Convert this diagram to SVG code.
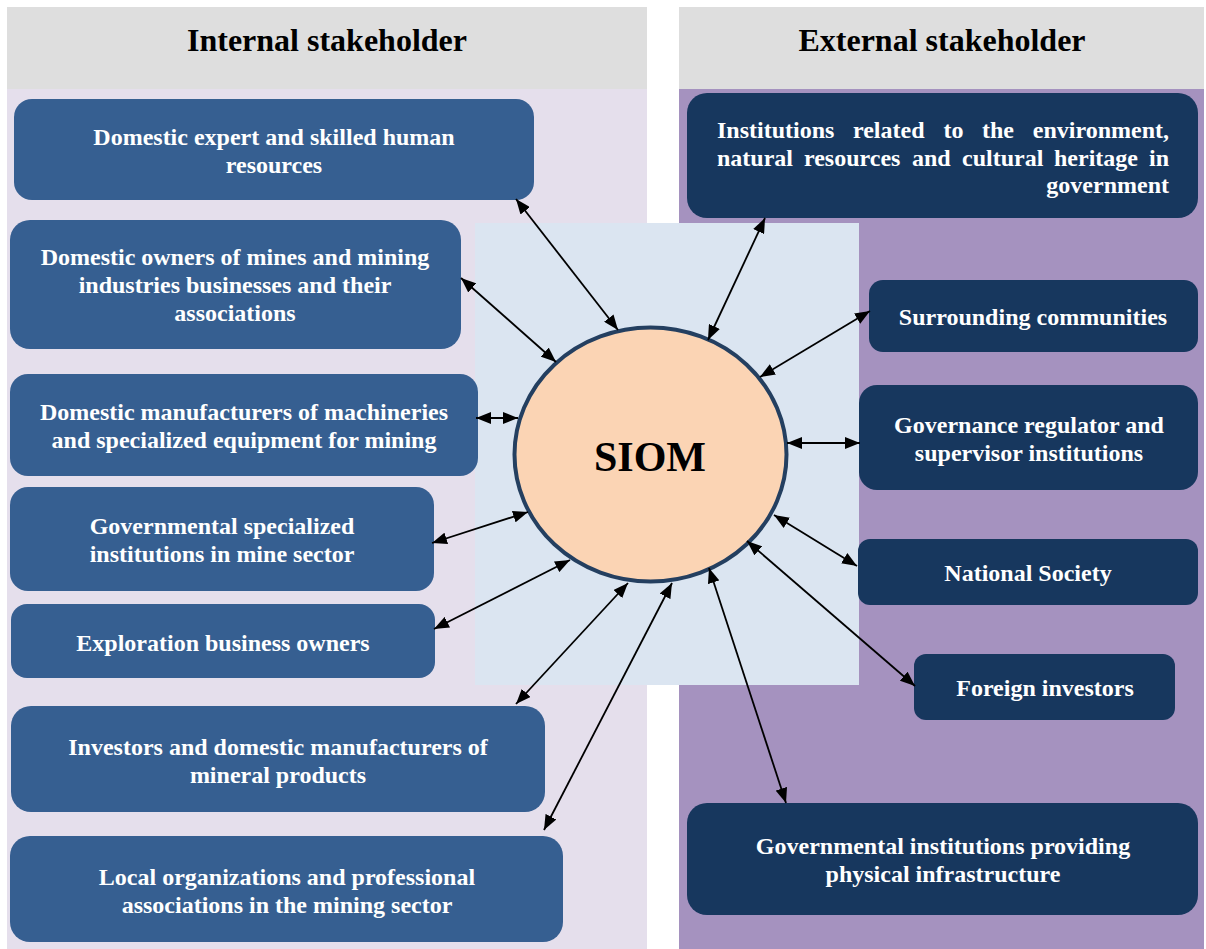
<svg xmlns="http://www.w3.org/2000/svg" width="1206" height="949" viewBox="0 0 1206 949">
<style>
.hdr{fill:#dedede}
.t{font-family:"Liberation Serif","Times New Roman",serif;font-weight:bold}
.h{font-size:32px;fill:#000;text-anchor:middle}
.b{font-size:24px;fill:#fff;text-anchor:middle}
.j{font-size:24px;fill:#fff}
.li{fill:#365f91}
.ex{fill:#17375e}
.c{stroke:#000;stroke-width:1.8;fill:none;marker-start:url(#ah);marker-end:url(#ah)}
</style>
<defs>
<marker id="ah" viewBox="0 0 15 12" markerUnits="userSpaceOnUse" markerWidth="15" markerHeight="12" refX="15" refY="6" orient="auto-start-reverse">
<path d="M0,0 L15,6 L0,12 z" fill="#000"/>
</marker>
</defs>
<rect width="1206" height="949" fill="#fff"/>
<g id="panels">
<rect x="7" y="7" width="640" height="82" class="hdr"/>
<rect x="7" y="89" width="640" height="860" fill="#e5dfec"/>
<rect x="679" y="7" width="525" height="82" class="hdr"/>
<rect x="679" y="89" width="525" height="860" fill="#a592bf"/>
<text class="t h" x="327" y="51">Internal stakeholder</text>
<text class="t h" x="942" y="51">External stakeholder</text>
<rect x="475" y="223" width="384" height="462" fill="#dbe5f1"/>
</g>
<g id="internal1"><rect class="li" x="14" y="99" width="520" height="101" rx="18"/>
<text class="t b" x="274" y="145">Domestic expert and skilled human</text>
<text class="t b" x="274" y="173">resources</text></g>
<g id="internal2"><rect class="li" x="10" y="220" width="451" height="129" rx="20"/>
<text class="t b" x="235" y="265">Domestic owners of mines and mining</text>
<text class="t b" x="235" y="293">industries businesses and their</text>
<text class="t b" x="235" y="321">associations</text></g>
<g id="internal3"><rect class="li" x="10" y="374" width="468" height="102" rx="18"/>
<text class="t b" x="244" y="420">Domestic manufacturers of machineries</text>
<text class="t b" x="244" y="448">and specialized equipment for mining</text></g>
<g id="internal4"><rect class="li" x="10" y="487" width="424" height="104" rx="18"/>
<text class="t b" x="222" y="534">Governmental specialized</text>
<text class="t b" x="222" y="562">institutions in mine sector</text></g>
<g id="internal5"><rect class="li" x="11" y="604" width="424" height="74" rx="16"/>
<text class="t b" x="223" y="651">Exploration business owners</text></g>
<g id="internal6"><rect class="li" x="11" y="706" width="534" height="106" rx="20"/>
<text class="t b" x="278" y="755">Investors and domestic manufacturers of</text>
<text class="t b" x="278" y="783">mineral products</text></g>
<g id="internal7"><rect class="li" x="10" y="836" width="553" height="106" rx="20"/>
<text class="t b" x="287" y="885">Local organizations and professional</text>
<text class="t b" x="287" y="913">associations in the mining sector</text></g>
<g id="external1"><rect class="ex" x="687" y="93" width="511" height="125" rx="20"/>
<text class="t j" y="138"><tspan x="717">Institutions</tspan><tspan x="853">related</tspan><tspan x="943.5">to</tspan><tspan x="982">the</tspan><tspan x="1169" text-anchor="end">environment,</tspan></text>
<text class="t j" y="166"><tspan x="717">natural</tspan><tspan x="804">resources</tspan><tspan x="912">and</tspan><tspan x="962">cultural</tspan><tspan x="1054">heritage</tspan><tspan x="1169" text-anchor="end">in</tspan></text>
<text class="t j" x="1169" y="193" text-anchor="end">government</text></g>
<g id="external2"><rect class="ex" x="869" y="280" width="329" height="72" rx="14"/>
<text class="t b" x="1033" y="325">Surrounding communities</text></g>
<g id="external3"><rect class="ex" x="859" y="385" width="339" height="105" rx="18"/>
<text class="t b" x="1029" y="433">Governance regulator and</text>
<text class="t b" x="1029" y="461">supervisor institutions</text></g>
<g id="external4"><rect class="ex" x="858" y="539" width="340" height="66" rx="12"/>
<text class="t b" x="1028" y="581">National Society</text></g>
<g id="external5"><rect class="ex" x="914" y="654" width="261" height="66" rx="12"/>
<text class="t b" x="1045" y="696">Foreign investors</text></g>
<g id="external6"><rect class="ex" x="687" y="803" width="511" height="112" rx="20"/>
<text class="t b" x="943" y="854">Governmental institutions providing</text>
<text class="t b" x="943" y="882">physical infrastructure</text></g>
<g id="siom">
<ellipse cx="650.5" cy="454.5" rx="136" ry="127" fill="#fbd4b4" stroke="#243f60" stroke-width="4"/>
<text class="t" x="650" y="471" font-size="42" text-anchor="middle" fill="#000">SIOM</text>
</g>
<g id="connectors">
<line class="c" x1="516" y1="199" x2="618" y2="330"/>
<line class="c" x1="461" y1="278" x2="556" y2="362"/>
<line class="c" x1="476" y1="418" x2="518" y2="418"/>
<line class="c" x1="432" y1="543" x2="528" y2="512"/>
<line class="c" x1="434" y1="629" x2="570" y2="560"/>
<line class="c" x1="516" y1="704" x2="628" y2="583"/>
<line class="c" x1="544" y1="830" x2="672" y2="583"/>
<line class="c" x1="765" y1="218" x2="708" y2="340"/>
<line class="c" x1="870" y1="311" x2="760" y2="377"/>
<line class="c" x1="787" y1="443" x2="860" y2="443"/>
<line class="c" x1="774" y1="515" x2="857" y2="566"/>
<line class="c" x1="747" y1="541" x2="915" y2="686"/>
<line class="c" x1="709" y1="568" x2="786" y2="803"/>
</g>
</svg>
